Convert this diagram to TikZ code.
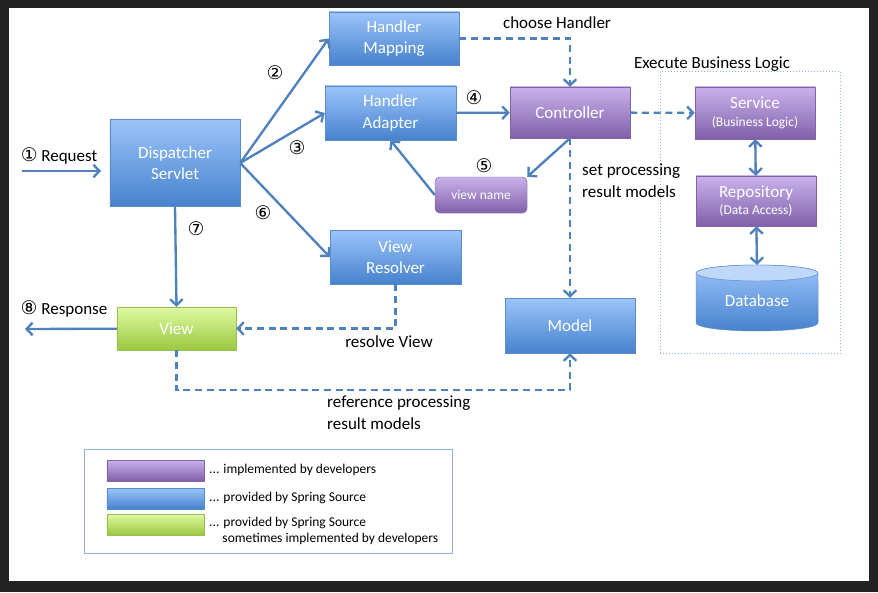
\documentclass[tikz,border=0pt]{standalone}
\usepackage{fontspec}
\setmainfont{Carlito}
\newfontfamily\circfont{DejaVu Sans}
\usetikzlibrary{arrows.meta,shadows}
\definecolor{frame}{RGB}{34,34,34}
\definecolor{arr}{RGB}{79,129,189}
\definecolor{bluetop}{RGB}{156,196,250}
\definecolor{bluebot}{RGB}{70,130,205}
\definecolor{blueline}{RGB}{90,140,205}
\definecolor{purtop}{RGB}{202,178,236}
\definecolor{purbot}{RGB}{128,96,170}
\definecolor{purline}{RGB}{130,100,165}
\definecolor{grntop}{RGB}{222,250,160}
\definecolor{grnbot}{RGB}{155,200,65}
\definecolor{grnline}{RGB}{150,190,85}
\definecolor{dbtop}{RGB}{190,215,250}
\definecolor{dotline}{RGB}{142,180,227}
\newcommand\numc[1]{{\circfont\fontsize{16}{16}\selectfont #1}}
\tikzset{>={Straight Barb[length=1.8mm,width=3.8mm]},
  box/.style={rectangle, inner sep=0pt, text=white, align=center,
    font=\fontsize{14.5}{18}\selectfont, minimum width=3.9cm, minimum height=1.6cm,
    drop shadow={opacity=0.2,shadow xshift=0.6pt,shadow yshift=-0.6pt}},
  sbox/.style={box, top color=bluetop, bottom color=bluebot, draw=blueline},
  pbox/.style={box, top color=purtop, bottom color=purbot, draw=purline},
  gbox/.style={box, top color=grntop, bottom color=grnbot, draw=grnline},
  flow/.style={->, draw=arr, line width=2pt},
  dflow/.style={flow, dash pattern=on 6pt off 4pt},
  lbl/.style={font=\fontsize{14.5}{18}\selectfont, align=left},
  small/.style={font=\fontsize{11.5}{14}\selectfont}}

\begin{document}
\begin{tikzpicture}[x=0.03cm,y=-0.03cm]
\fill[frame] (0,0) rectangle (878,592);
\fill[white] (9,8) rectangle (869,581);
\useasboundingbox (0,0) rectangle (878,592);

% framework parts
\node[sbox, minimum height=2.61cm] (DS) at (175,163) {Dispatcher\\Servlet};
\node[sbox, minimum height=1.59cm] (HM) at (394,38.5) {Handler\\Mapping};
\node[sbox, minimum width=3.93cm, minimum height=1.62cm] (HA) at (390.5,113) {Handler\\Adapter};
\node[sbox, minimum width=3.93cm, minimum height=1.62cm] (VR) at (395.5,257) {View\\Resolver};
\node[sbox, minimum height=1.65cm] (Model) at (570,325.5) {Model};
\node[gbox, minimum width=3.57cm, minimum height=1.29cm] (View) at (176.5,328.5) {View};

% developer parts
\node[pbox, minimum width=3.6cm, minimum height=1.53cm] (Ctrl) at (570,112.5) {Controller};
\node[pbox, rounded corners=4pt, minimum width=2.76cm, minimum height=1.08cm, small] (vn) at (481,195) {view name};

% business logic
\node[draw=dotline, dotted, semithick, minimum width=5.4cm, minimum height=8.46cm] (BL) at (750,212) {};
\node[lbl] (BLtxt) at (712,64) {Execute Business Logic};
\node[pbox, minimum width=3.6cm, minimum height=1.56cm] (Svc) at (755,113) {Service\\[-3pt]{\fontsize{11.5}{13}\selectfont (Business Logic)}};
\node[pbox, minimum width=3.6cm, minimum height=1.5cm] (Repo) at (756,201) {Repository\\[-3pt]{\fontsize{11.5}{13}\selectfont (Data Access)}};
\shade[top color=bluetop, bottom color=bluebot, draw=blueline]
  (696,273) -- (696,323) arc[start angle=180, end angle=360, x radius=1.83cm, y radius=0.24cm]
  -- (818,273) arc[start angle=0, end angle=180, x radius=1.83cm, y radius=0.24cm] -- cycle;
\draw[fill=dbtop, draw=blueline] (757,273) ellipse[x radius=1.83cm, y radius=0.24cm];
\node[text=white, font=\fontsize{14.5}{18}\selectfont] (DB) at (757,301) {Database};
\coordinate (DBtop) at (757,265);

% request / response
\coordinate (reqS) at (22,171);
\coordinate (reqE) at (101,171);
\coordinate (resp) at (25,329);
\node[lbl] (req) at (59,156) {\numc{①} Request};
\node[lbl] (res) at (64,309) {\numc{⑧} Response};
\draw[flow] (reqS) -- (reqE);
\draw[flow] (View) -- (resp);

% numbered steps
\draw[flow] (DS.east) -- (HM.west);
\draw[flow] (DS.east) -- (HA.west);
\draw[flow] (DS.east) -- (VR.west);
\draw[flow] (DS.south) -- (View.north);
\draw[flow] (HA) -- (Ctrl);
\draw[flow] (Ctrl.south) -- (vn.north east);
\draw[flow] (vn.west) -- (HA.south);
\node (n2) at (275,73) {\numc{②}};
\node (n3) at (297,148) {\numc{③}};
\node (n4) at (474,98) {\numc{④}};
\node (n5) at (484,166) {\numc{⑤}};
\node (n6) at (263,213) {\numc{⑥}};
\node (n7) at (196,229) {\numc{⑦}};

% dashed flows
\draw[dflow] (HM.east) -| (Ctrl.north);
\draw[dflow] (Ctrl) -- (Svc);
\draw[dflow] (Ctrl.south) -- (Model.north);
\draw[dflow] (VR.south) |- (View.east);
\draw[dflow] (View.south) -- ++(0,40) -| (Model.south);
\draw[flow, <->] (Svc) -- (Repo);
\draw[flow, <->] (Repo) -- (DBtop);
\node[lbl] (chs) at (557,23) {choose Handler};
\node[lbl, anchor=north west, inner sep=0pt] (set) at (582,164) {set processing\\result models};
\node[lbl] (rsv) at (389,342) {resolve View};
\node[lbl, anchor=north west, inner sep=0pt] (ref) at (327,396) {reference processing\\result models};

% legend
\node[draw=dotline, thick, minimum width=11.04cm, minimum height=3.12cm, drop shadow={opacity=0.15,shadow xshift=0.6pt,shadow yshift=-0.6pt}, fill=white] (leg) at (268,501) {};
\node[pbox, minimum width=2.91cm, minimum height=0.63cm] (lp) at (155.5,470.5) {};
\node[sbox, minimum width=2.91cm, minimum height=0.63cm] (lb) at (155.5,498.5) {};
\node[gbox, minimum width=2.91cm, minimum height=0.63cm] (lg) at (155.5,524.5) {};
\node[small, anchor=west, inner sep=0pt] (lpt) at (209,470) {... implemented by developers};
\node[small, anchor=west, inner sep=0pt] (lbt) at (209,498) {... provided by Spring Source};
\node[small, anchor=north west, inner sep=0pt, align=left] (lgt) at (209,517) {... provided by Spring Source\\\phantom{...\ }sometimes implemented by developers};
\end{tikzpicture}
\end{document}
